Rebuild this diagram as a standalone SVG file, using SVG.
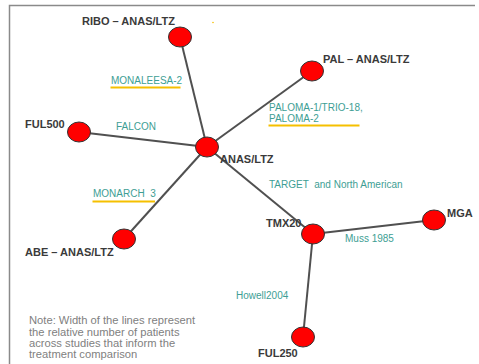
<svg xmlns="http://www.w3.org/2000/svg" width="479" height="364" viewBox="0 0 479 364">
<style>
.node{fill:#ff0000;stroke:#333;stroke-width:1}
.lbl{font-family:"Liberation Sans",Arial,sans-serif;font-size:11px;fill:#3a3a3a;font-weight:bold}
.study{font-family:"Liberation Sans",Arial,sans-serif;font-size:10px;fill:#3d9e94}
.ul{stroke:#f5c000;stroke-width:2}
.edge{stroke:#505050;stroke-width:2;fill:none}
.note{font-family:"Liberation Sans",Arial,sans-serif;font-size:11.2px;fill:#808080}
</style>
<rect width="479" height="364" fill="#fff"/>
<path d="M9.5 364V5.5H475" fill="none" stroke="#8a8a8a" stroke-width="1.5"/>
<circle cx="213" cy="22.5" r="0.8" fill="#f5c000"/>
<g id="connectors">
<line class="edge" x1="180" y1="37" x2="207" y2="147"/>
<line class="edge" x1="79" y1="132" x2="207" y2="147"/>
<line class="edge" x1="312" y1="71" x2="207" y2="147"/>
<line class="edge" x1="124" y1="239" x2="207" y2="147"/>
<line class="edge" x1="207" y1="147" x2="313" y2="234"/>
<line class="edge" x1="313" y1="234" x2="434" y2="220"/>
<line class="edge" x1="313" y1="234" x2="303" y2="337"/>
</g>
<g id="studies">
<text class="study" x="111" y="83.5">MONALEESA-2</text>
<line class="ul" x1="110.5" y1="87.5" x2="180.5" y2="87.5"/>
<text class="study" x="116" y="130">FALCON</text>
<text class="study" x="269" y="110.5">PALOMA-1/TRIO-18,</text>
<text class="study" x="269" y="121.5">PALOMA-2</text>
<line class="ul" x1="268.5" y1="125.5" x2="359.5" y2="125.5"/>
<text class="study" x="269" y="187.5" xml:space="preserve">TARGET  and North American</text>
<text class="study" x="345" y="241.5">Muss 1985</text>
<text class="study" x="236" y="299">Howell2004</text>
<text class="study" x="93" y="196.5" xml:space="preserve">MONARCH  3</text>
<line class="ul" x1="92.5" y1="201.5" x2="155" y2="201.5"/>
</g>
<g id="n-ribo"><ellipse class="node" cx="180" cy="37" rx="11.5" ry="10"/><text class="lbl" x="82" y="25">RIBO – ANAS/LTZ</text></g>
<g id="n-ful500"><ellipse class="node" cx="79" cy="132" rx="11.5" ry="10"/><text class="lbl" x="25" y="128">FUL500</text></g>
<g id="n-anas"><ellipse class="node" cx="207" cy="147" rx="11.5" ry="10"/><text class="lbl" x="220" y="162.5">ANAS/LTZ</text></g>
<g id="n-pal"><ellipse class="node" cx="312" cy="71" rx="11.5" ry="10"/><text class="lbl" x="323" y="63">PAL – ANAS/LTZ</text></g>
<g id="n-abe"><ellipse class="node" cx="124" cy="239" rx="11.5" ry="10"/><text class="lbl" x="25" y="256">ABE – ANAS/LTZ</text></g>
<g id="n-tmx20"><ellipse class="node" cx="313" cy="234" rx="11.5" ry="10"/><text class="lbl" x="266" y="226.5">TMX20</text></g>
<g id="n-mga"><ellipse class="node" cx="434" cy="220" rx="11.5" ry="10"/><text class="lbl" x="447" y="217">MGA</text></g>
<g id="n-ful250"><ellipse class="node" cx="303" cy="337" rx="11.5" ry="10"/><text class="lbl" x="258" y="357">FUL250</text></g>
<g id="note">
<text class="note" x="29" y="324">Note: Width of the lines represent</text>
<text class="note" x="29" y="335.5">the relative number of patients</text>
<text class="note" x="29" y="347">across studies that inform the</text>
<text class="note" x="29" y="358">treatment comparison</text>
</g>
</svg>
